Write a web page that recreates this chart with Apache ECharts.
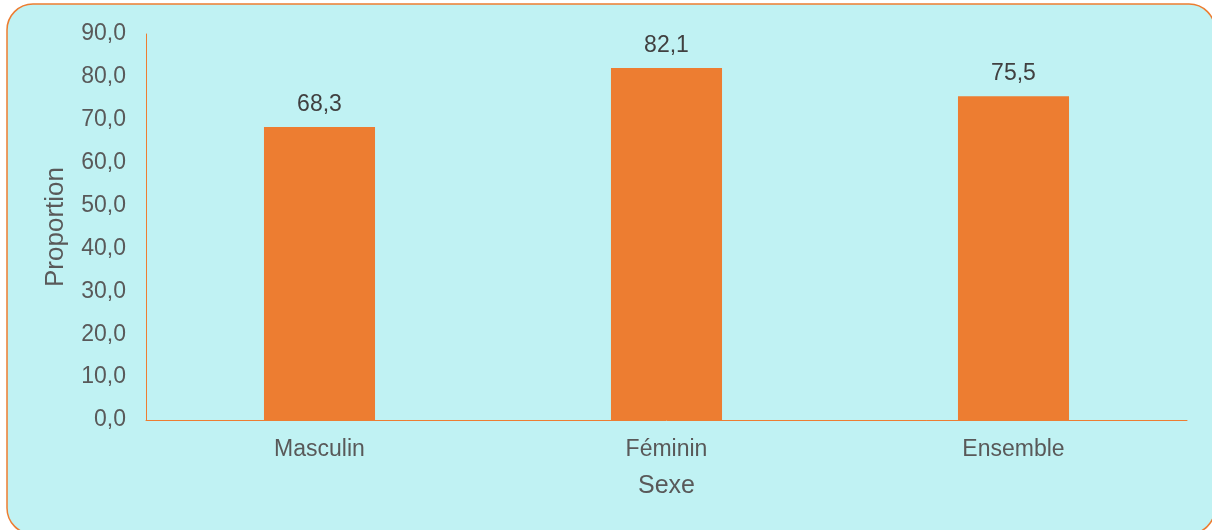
<!DOCTYPE html>
<html>
<head>
<meta charset="utf-8">
<script src="https://cdn.jsdelivr.net/npm/echarts@6/dist/echarts.min.js"></script>
<style>
html,body{margin:0;padding:0;background:#ffffff;}
#chart{width:1212px;height:530px;}
</style>
</head>
<body>
<div id="chart"></div>
<script>
var categories = ['Masculin', 'Féminin', 'Ensemble'];
var values = [68.3, 82.1, 75.5];
var yTicks = [0, 10, 20, 30, 40, 50, 60, 70, 80, 90];
var xAxisName = 'Sexe';
var yAxisName = 'Proportion';

function fr(v) { return Number(v).toFixed(1).replace('.', ','); }

var chart = echarts.init(document.getElementById('chart'));
chart.setOption({
  backgroundColor: '#ffffff',
  animation: false,
  graphic: [{
    type: 'rect',
    z: -10,
    silent: true,
    shape: { x: 7, y: 4, width: 1208, height: 530, r: 26 },
    style: { fill: '#C0F2F3', stroke: '#ED7D31', lineWidth: 1.5 }
  }],
  grid: { left: 146, right: 25, top: 34, bottom: 110 },
  xAxis: {
    type: 'category',
    data: categories,
    name: xAxisName,
    nameLocation: 'middle',
    nameGap: 54,
    nameTextStyle: { color: '#595959', fontSize: 25, fontFamily: 'Liberation Sans' },
    axisLine: { show: true, lineStyle: { color: '#ED7D31', width: 1 } },
    axisTick: { show: false },
    axisLabel: { color: '#595959', fontSize: 23, margin: 18, fontFamily: 'Liberation Sans' }
  },
  yAxis: {
    type: 'value',
    min: yTicks[0],
    max: yTicks[yTicks.length - 1],
    interval: 10,
    name: yAxisName,
    nameLocation: 'middle',
    nameGap: 77,
    nameTextStyle: { color: '#595959', fontSize: 26, fontFamily: 'Liberation Sans' },
    axisLine: { show: true, lineStyle: { color: '#ED7D31', width: 1 } },
    axisTick: { show: false },
    splitLine: { show: false },
    axisLabel: { color: '#595959', fontSize: 23, margin: 20, fontFamily: 'Liberation Sans', formatter: function (v) { return fr(v); } }
  },
  series: [{
    type: 'bar',
    data: values,
    barWidth: '32%',
    itemStyle: { color: '#ED7D31' },
    label: {
      show: true,
      position: 'top',
      distance: 11,
      color: '#404040',
      fontSize: 23,
      fontFamily: 'Liberation Sans',
      formatter: function (p) { return fr(p.value); }
    }
  }]
});
</script>
</body>
</html>
